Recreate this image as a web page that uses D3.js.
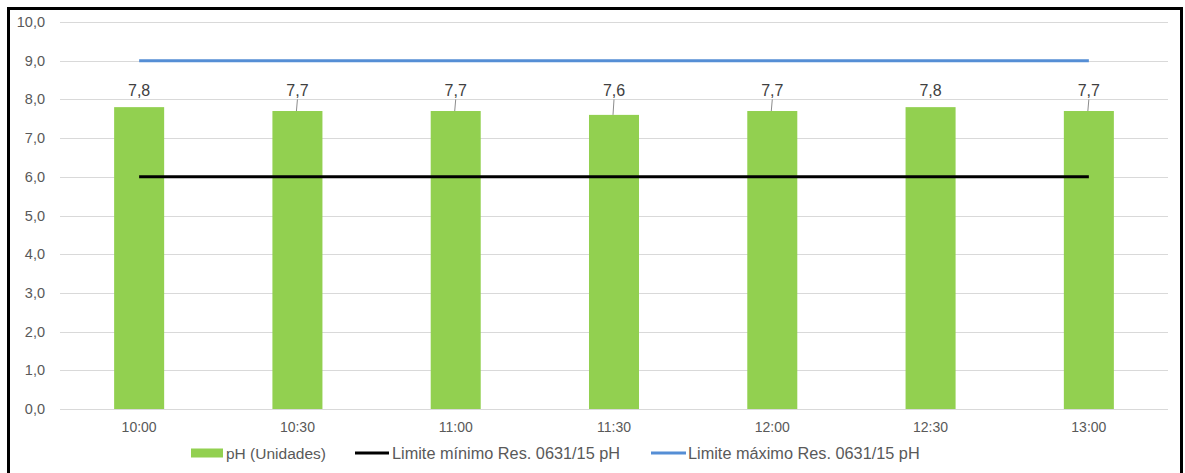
<!DOCTYPE html>
<html>
<head>
<meta charset="utf-8">
<script src="https://cdn.jsdelivr.net/npm/d3@7"></script>
<style>
  body { margin: 0; background: #fff; }
  svg { display: block; font-family: "Liberation Sans", Arial, sans-serif; }
</style>
</head>
<body>
<svg width="1185" height="473"></svg>
<script>
// data
var horas = ["10:00", "10:30", "11:00", "11:30", "12:00", "12:30", "13:00"];
var ph = [7.8, 7.7, 7.7, 7.6, 7.7, 7.8, 7.7];
var limiteMin = [6, 6, 6, 6, 6, 6, 6];
var limiteMax = [9, 9, 9, 9, 9, 9, 9];
var yTicks = [0, 1, 2, 3, 4, 5, 6, 7, 8, 9, 10];
var nomes = ["pH (Unidades)", "Limite mínimo Res. 0631/15 pH", "Limite máximo Res. 0631/15 pH"];

var margin = {top: 22, right: 17, bottom: 64, left: 60},
    width = 1185 - margin.left - margin.right,
    height = 473 - margin.top - margin.bottom;

var svg = d3.select("svg");

// outer frame
svg.append("rect")
    .attr("x", 8.5).attr("y", 8.5)
    .attr("width", 1173).attr("height", 480)
    .style("fill", "none")
    .style("stroke", "#000")
    .style("stroke-width", "3px");

var g = svg.append("g")
    .attr("transform", "translate(" + margin.left + "," + margin.top + ")");

var x = d3.scaleBand()
    .domain(horas)
    .range([0, width])
    .padding(0);

var y = d3.scaleLinear()
    .domain([0, 10])
    .range([height, 0]);

var fmt = function(v) { return d3.format(".1f")(v).replace(".", ","); };

// grid
g.append("g")
    .selectAll("line")
    .data(yTicks)
    .join("line")
    .attr("x1", 0).attr("x2", width)
    .attr("y1", d => Math.round(y(d)) + 0.5)
    .attr("y2", d => Math.round(y(d)) + 0.5)
    .style("stroke", "#d9d9d9")
    .style("stroke-width", "1px");

// y axis labels
g.append("g")
    .selectAll("text")
    .data(yTicks)
    .join("text")
    .attr("x", -15)
    .attr("y", d => y(d) + 5)
    .attr("text-anchor", "end")
    .style("font-size", "14.5px")
    .style("fill", "#595959")
    .text(fmt);

// x axis labels
g.append("g")
    .selectAll("text")
    .data(horas)
    .join("text")
    .attr("x", d => x(d) + x.bandwidth() / 2)
    .attr("y", height + 23)
    .attr("text-anchor", "middle")
    .style("font-size", "14px")
    .style("fill", "#595959")
    .text(d => d);

// bars
var barW = x.bandwidth() * 0.316;
g.append("g")
    .selectAll("rect")
    .data(ph)
    .join("rect")
    .attr("x", (d, i) => x(horas[i]) + x.bandwidth() / 2 - barW / 2)
    .attr("y", d => y(d))
    .attr("width", barW)
    .attr("height", d => height - y(d))
    .style("fill", "#92d050");

// limit lines
var line = d3.line()
    .x((d, i) => x(horas[i]) + x.bandwidth() / 2)
    .y(d => y(d));

g.append("path")
    .datum(limiteMin)
    .attr("d", line)
    .style("fill", "none")
    .style("stroke", "#000")
    .style("stroke-width", "3px");

g.append("path")
    .datum(limiteMax)
    .attr("d", line)
    .style("fill", "none")
    .style("stroke", "#558ed5")
    .style("stroke-width", "3px");

// data labels with leader lines
var labelY = y(8) - 3;
var lab = g.append("g");
ph.forEach(function(v, i) {
    var cx = x(horas[i]) + x.bandwidth() / 2;
    if (y(v) - labelY > 12) {
        lab.append("line")
            .attr("x1", cx).attr("x2", cx - 1)
            .attr("y1", labelY + 3).attr("y2", y(v))
            .style("stroke", "#8c8c8c")
            .style("stroke-width", "1px");
    }
    lab.append("text")
        .attr("x", cx)
        .attr("y", labelY)
        .attr("text-anchor", "middle")
        .style("font-size", "16px")
        .style("fill", "#404040")
        .text(fmt(v));
});

// legend
var leg = svg.append("g").attr("transform", "translate(0,453)");
var legX = [191, 355, 651];
leg.append("rect")
    .attr("x", legX[0]).attr("y", -4.5)
    .attr("width", 32).attr("height", 9)
    .style("fill", "#92d050");
leg.append("line")
    .attr("x1", legX[1]).attr("x2", legX[1] + 34)
    .attr("y1", 0).attr("y2", 0)
    .style("stroke", "#000").style("stroke-width", "3px");
leg.append("line")
    .attr("x1", legX[2]).attr("x2", legX[2] + 35)
    .attr("y1", 0).attr("y2", 0)
    .style("stroke", "#558ed5").style("stroke-width", "3px");
leg.selectAll("text")
    .data(nomes)
    .join("text")
    .attr("x", (d, i) => legX[i] + [35, 37, 37][i])
    .attr("y", 6)
    .style("font-size", (d, i) => i === 0 ? "15.5px" : "16.3px")
    .style("fill", "#595959")
    .text(d => d);
</script>
</body>
</html>
